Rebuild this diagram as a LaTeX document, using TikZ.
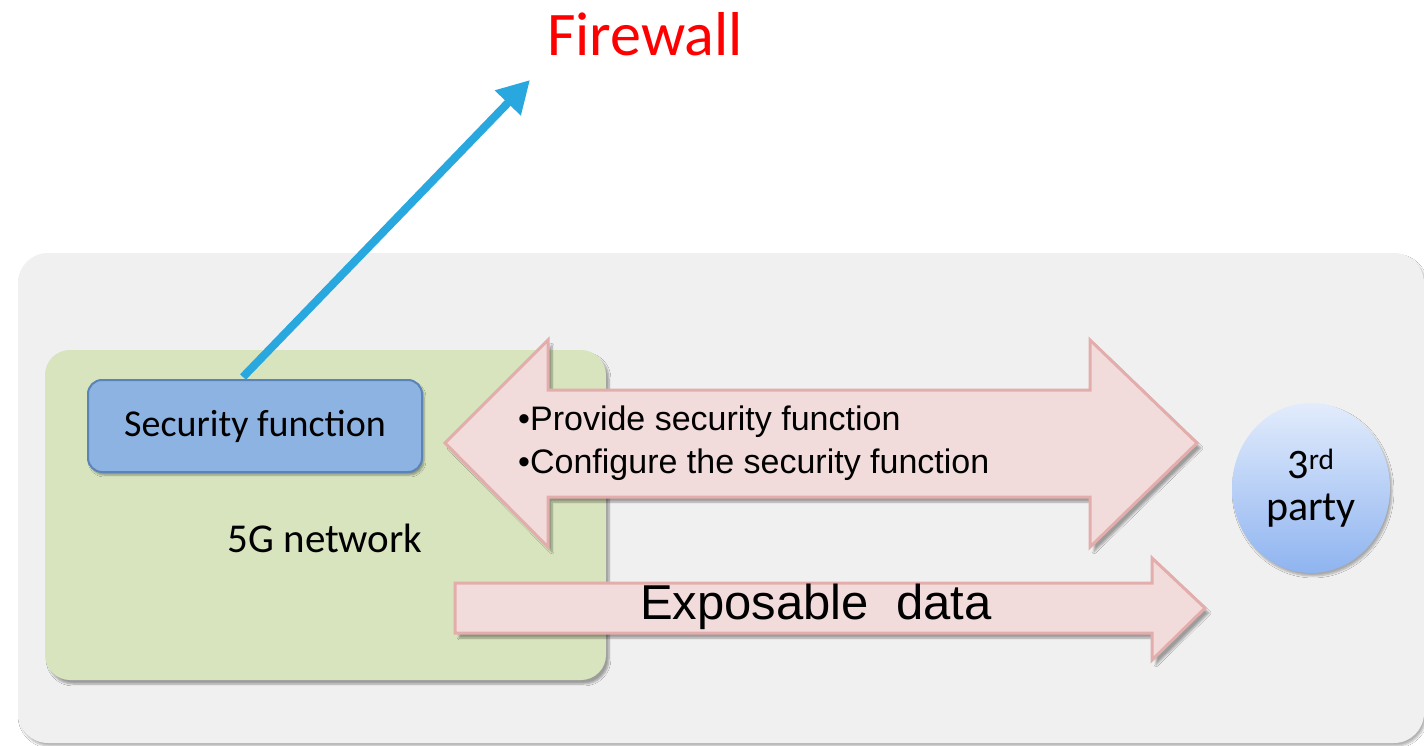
\documentclass[tikz,border=0pt]{standalone}
\usepackage{fontspec}
\setmainfont{Carlito}
\newfontfamily\arialf{Liberation Sans}
\usetikzlibrary{arrows.meta,calc,shadows.blur,shapes.geometric}
\definecolor{outerbg}{HTML}{F0F0F0}
\definecolor{greenbg}{HTML}{D7E4BD}
\definecolor{secfill}{HTML}{8DB3E2}
\definecolor{secdraw}{HTML}{5A83B8}
\definecolor{pinkfill}{HTML}{F2DCDB}
\definecolor{pinkdraw}{HTML}{E3ADAC}
\definecolor{fwblue}{HTML}{29A8E0}
\definecolor{ptop}{HTML}{E2ECFC}
\definecolor{pbot}{HTML}{8FB4F0}
\tikzset{
  outerbox/.style={rectangle, rounded corners=30pt, fill=outerbg, draw=none,
    blur shadow={shadow xshift=2pt, shadow yshift=-3pt, shadow blur steps=6, shadow opacity=30}},
  netbox/.style={rectangle, rounded corners=25pt, fill=greenbg, draw=none,
    blur shadow={shadow xshift=3pt, shadow yshift=-4pt, shadow blur steps=6, shadow opacity=35}},
  secbox/.style={rectangle, rounded corners=14pt, fill=secfill, draw=secdraw, line width=2pt,
    blur shadow={shadow xshift=2pt, shadow yshift=-3pt, shadow blur steps=5, shadow opacity=35},
    font=\fontsize{38}{44}\selectfont},
  bigarrow/.style={fill=pinkfill, draw=pinkdraw, line width=3pt, line join=miter,
    blur shadow={shadow xshift=4pt, shadow yshift=-5pt, shadow blur steps=6, shadow opacity=35}},
  party/.style={ellipse, top color=ptop, bottom color=pbot, draw=none,
    blur shadow={shadow xshift=2pt, shadow yshift=-3pt, shadow blur steps=6, shadow opacity=30},
    align=center, font=\fontsize{42}{46}\selectfont},
  fwarrow/.style={draw=fwblue, line width=8pt, -{Triangle[length=32pt,width=34pt]}},
  armtext/.style={anchor=west, font=\arialf\fontsize{34}{40}\selectfont, inner sep=0pt},
}
\begin{document}
\begin{tikzpicture}[x=1pt,y=-1pt]
\useasboundingbox (0,0) rectangle (1424,746);
\fill[white] (0,0) rectangle (1424,746);
% outer box
\node[outerbox, minimum width=1406pt, minimum height=490pt] (outer) at (721,498) {};
% 5G network box
\node[netbox, minimum width=561pt, minimum height=330pt] (net) at (325.5,515) {};
% security function
\node[secbox, minimum width=334pt, minimum height=92pt] (sec) at (255,426) {Security function};
\node[font=\fontsize{41}{46}\selectfont, anchor=center] (fivegl) at (325,538) {5G network};
% double arrow
\draw[bigarrow] (445,443) -- (548,340) -- (548,390) -- (1090,390) -- (1090,340) -- (1197,443)
  -- (1090,547) -- (1090,497) -- (548,497) -- (548,547) -- cycle;
\node[armtext] (t1) at (518,422) {\textbullet Provide security function};
\node[armtext] (t2) at (518,465) {\textbullet Configure the security function};
% exposable data arrow
\draw[bigarrow] (455,583) -- (1152,583) -- (1152,558) -- (1205,608) -- (1152,660) -- (1152,633)
  -- (455,633) -- cycle;
\node[font=\arialf\fontsize{49}{54}\selectfont, anchor=center] (exp) at (816,607) {Exposable\ \ data};
% 3rd party
\node[party, minimum width=158pt, minimum height=170pt, inner sep=0pt] (third) at (1311,488)
  {3\textsuperscript{rd}\\[-4pt]party};
% firewall
\node[text=red, font=\fontsize{62}{68}\selectfont, anchor=center] (fw) at (645,34) {Firewall};
\coordinate (fwend) at (530,80);
\draw[fwarrow] ($(sec.north)+(-12,-2)$) -- (fwend);
\end{tikzpicture}
\end{document}
